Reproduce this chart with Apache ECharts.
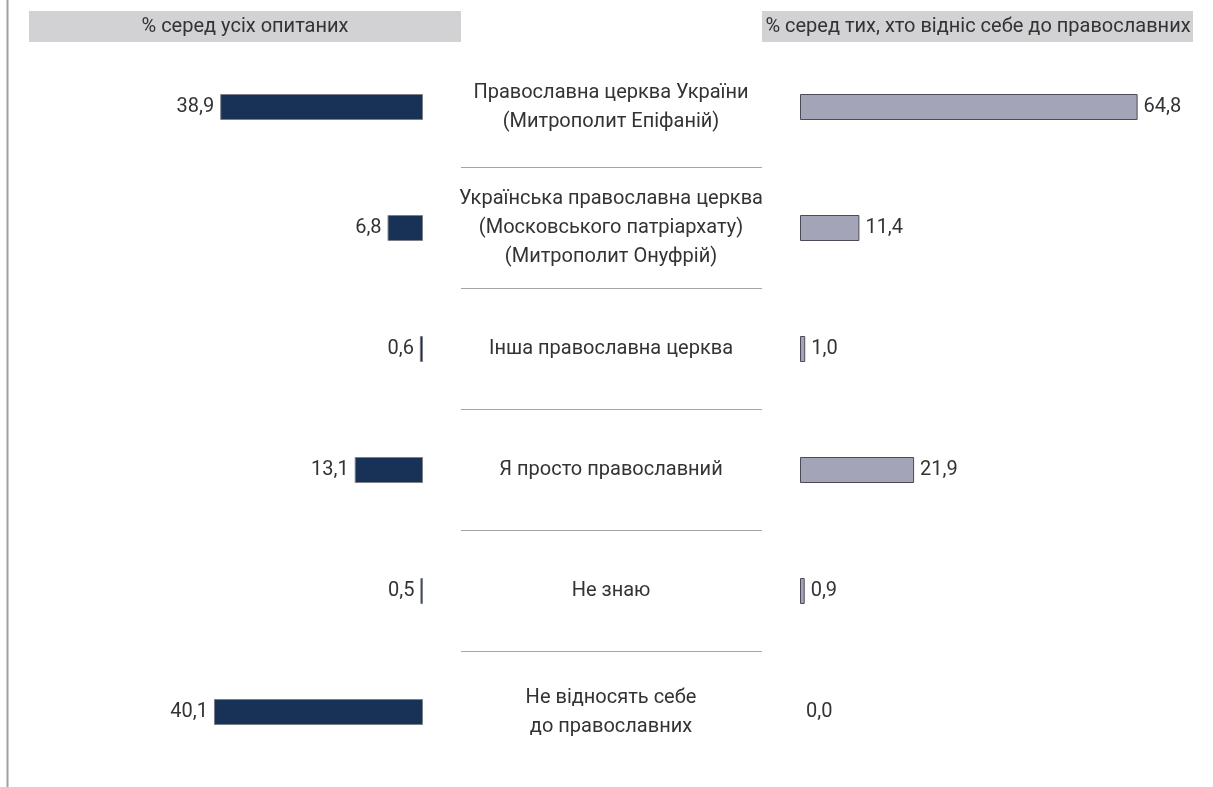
<!DOCTYPE html>
<html>
<head>
<meta charset="utf-8">
<script src="https://cdn.jsdelivr.net/npm/echarts@6/dist/echarts.min.js"></script>
<style>
  html, body { margin: 0; padding: 0; background: #fff; }
  #chart { width: 1213px; height: 787px; }
</style>
</head>
<body>
<div id="chart"></div>
<script>
// категорії (по центру)
var categories = [
  'Православна церква України\n(Митрополит Епіфаній)',
  'Українська православна церква\n(Московського патріархату)\n(Митрополит Онуфрій)',
  'Інша православна церква',
  'Я просто православний',
  'Не знаю',
  'Не відносять себе\nдо православних'
];
// % серед усіх опитаних
var allRespondents = [38.9, 6.8, 0.6, 13.1, 0.5, 40.1];
// % серед тих, хто відніс себе до православних
var orthodoxOnly = [64.8, 11.4, 1.0, 21.9, 0.9, 0.0];

var headerLeft = '% серед усіх опитаних';
var headerRight = '% серед тих, хто відніс себе до православних';

var FONT = 'Roboto';
var chart = echarts.init(document.getElementById('chart'));

function fmt(p) {
  return p.value.toFixed(1).replace('.', ',');
}

// нульові бари без рамки
function toItems(arr) {
  return arr.map(function (v) {
    return { value: v, itemStyle: { borderWidth: v > 0 ? 1 : 0 } };
  });
}

var gridTop = 46.5, gridH = 726;

var option = {
  animation: false,
  textStyle: { fontFamily: FONT },
  grid: [
    { left: 6, width: 417, top: gridTop, height: gridH },   // ліві бари
    { left: 800, width: 364.7, top: gridTop, height: gridH }, // праві бари
    { left: 461, width: 301, top: gridTop, height: gridH }  // роздільники
  ],
  xAxis: [
    { gridIndex: 0, type: 'value', min: 0, max: 80, inverse: true, show: false },
    { gridIndex: 1, type: 'value', min: 0, max: 70, show: false },
    { gridIndex: 2, type: 'value', min: 0, max: 1, show: false }
  ],
  yAxis: [
    {
      gridIndex: 0, type: 'category', data: categories, inverse: true,
      axisLine: { show: false }, axisTick: { show: false }, axisLabel: { show: false }
    },
    {
      gridIndex: 1, type: 'category', data: categories, inverse: true,
      axisLine: { show: false }, axisTick: { show: false },
      axisLabel: {
        align: 'center', margin: 189, fontSize: 20, color: '#333',
        lineHeight: 29, fontFamily: FONT
      }
    },
    {
      gridIndex: 2, type: 'category', data: categories, inverse: true,
      axisLine: { show: false }, axisTick: { show: false }, axisLabel: { show: false },
      splitLine: {
        show: true, showMinLine: false, showMaxLine: false,
        lineStyle: { color: '#a6a6a6', width: 1 }
      }
    }
  ],
  series: [
    {
      type: 'bar', xAxisIndex: 0, yAxisIndex: 0, data: toItems(allRespondents),
      barWidth: 26,
      itemStyle: { color: '#173157', borderColor: '#7a7f88', borderWidth: 1 },
      label: {
        show: true, position: 'left', distance: 6, formatter: fmt,
        fontSize: 20, color: '#333', fontFamily: FONT
      }
    },
    {
      type: 'bar', xAxisIndex: 1, yAxisIndex: 1, data: toItems(orthodoxOnly),
      barWidth: 26,
      itemStyle: { color: '#a3a4b8', borderColor: '#4b4b57', borderWidth: 1 },
      label: {
        show: true, position: 'right', distance: 6, formatter: fmt,
        fontSize: 20, color: '#333', fontFamily: FONT
      }
    }
  ],
  graphic: [
    { type: 'line', shape: { x1: 7.5, y1: 0, x2: 7.5, y2: 787 }, style: { stroke: '#a0a0a0', lineWidth: 2 } },
    { type: 'rect', shape: { x: 29, y: 11, width: 432, height: 31 }, style: { fill: '#d2d2d4' } },
    { type: 'rect', shape: { x: 762, y: 11, width: 431, height: 31 }, style: { fill: '#d2d2d4' } },
    {
      type: 'text', x: 245, y: 27,
      style: { text: headerLeft, font: '20px ' + FONT, fill: '#333', textAlign: 'center', textVerticalAlign: 'middle' }
    },
    {
      type: 'text', x: 978, y: 27,
      style: { text: headerRight, font: '20px ' + FONT, fill: '#333', textAlign: 'center', textVerticalAlign: 'middle' }
    }
  ]
};

chart.setOption(option);
</script>
</body>
</html>
